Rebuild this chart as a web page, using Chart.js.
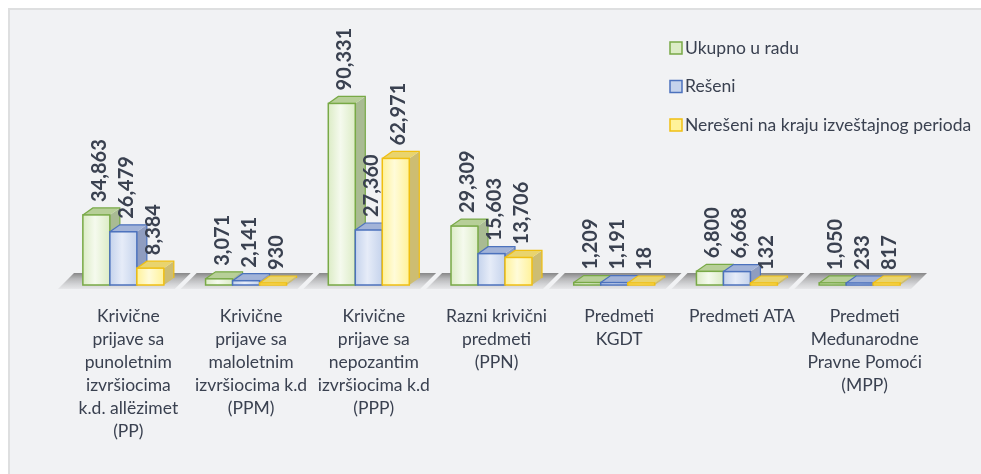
<!DOCTYPE html>
<html>
<head>
<meta charset="utf-8">
<script src="https://cdn.jsdelivr.net/npm/chart.js@4/dist/chart.umd.min.js"></script>
<style>
  html, body { margin: 0; padding: 0; background: #fff; }
  #wrap { position: relative; width: 981px; height: 474px; overflow: hidden; }
  #panel { position: absolute; left: 8px; top: 8px; right: 0; bottom: 0;
    background: #f1f2f4; border-top: 2px solid #dedfe0; border-left: 2px solid #dedfe0; }
  #c { position: absolute; left: 0; top: 0; }
</style>
</head>
<body>
<div id="wrap">
  <div id="panel"></div>
  <canvas id="c" width="981" height="474"></canvas>
</div>
<script>
const categories = [
  ['Krivične', 'prijave sa', 'punoletnim', 'izvršiocima', 'k.d. allëzimet', '(PP)'],
  ['Krivične', 'prijave sa', 'maloletnim', 'izvršiocima k.d', '(PPM)'],
  ['Krivične', 'prijave sa', 'nepozantim', 'izvršiocima k.d', '(PPP)'],
  ['Razni krivični', 'predmeti', '(PPN)'],
  ['Predmeti', 'KGDT'],
  ['Predmeti ATA'],
  ['Predmeti', 'Međunarodne', 'Pravne Pomoći', '(MPP)']
];
const seriesNames = ['Ukupno u radu', 'Rešeni', 'Nerešeni na kraju izveštajnog perioda'];
const ukupno = [34863, 3071, 90331, 29309, 1209, 6800, 1050];
const reseni = [26479, 2141, 27360, 15603, 1191, 6668, 233];
const nereseni = [8384, 930, 62971, 13706, 18, 132, 817];

const FONT = 'Lato, "Noto Sans", sans-serif';
const TEXT = '#3a4150';
const DX = 10, DY = 7;

// face colours per series: front edge, front centre, border, side, top
const looks = [
  { front: '#dcecc6', mid: '#f5faee', border: '#78a946', side: '#a9bb93', top: '#b7cf98' },
  { front: '#c5d3ec', mid: '#e6ecf8', border: '#4c72bd', side: '#8f9dc0', top: '#a2b3d8' },
  { front: '#fff29a', mid: '#fffbd9', border: '#f0bf12', side: '#cdbd72', top: '#e9d46e' }
];

const box3d = {
  id: 'box3d',
  beforeDatasetsDraw(chart) {
    const { ctx, scales: { x, y } } = chart;
    const base = y.getPixelForValue(0);
    const half = (x.getPixelForValue(1) - x.getPixelForValue(0)) / 2;
    ctx.save();
    categories.forEach((_, i) => {
      const cx = x.getPixelForValue(i);
      const l = cx - half + 2, r = cx + half - 4;
      const g = ctx.createLinearGradient(0, base - 12, 0, base + 4);
      g.addColorStop(0, 'rgba(115,115,115,0.85)');
      g.addColorStop(0.35, 'rgba(165,165,167,0.78)');
      g.addColorStop(1, 'rgba(222,223,225,0.6)');
      ctx.fillStyle = g;
      ctx.beginPath();
      ctx.moveTo(l - 6, base + 4);
      ctx.lineTo(r - 6, base + 4);
      ctx.lineTo(r + 10, base - 12);
      ctx.lineTo(l + 10, base - 12);
      ctx.closePath();
      ctx.fill();
    });
    ctx.restore();
  },
  afterDatasetsDraw(chart) {
    const { ctx } = chart;
    ctx.save();
    categories.forEach((_, i) => {
      chart.data.datasets.forEach((ds, d) => {
        const el = chart.getDatasetMeta(d).data[i];
        const lk = looks[d];
        const l = el.x - el.width / 2, r = el.x + el.width / 2;
        const base = el.base;
        const top = Math.min(el.y, base - 2);
        // side
        ctx.fillStyle = lk.side;
        ctx.beginPath();
        ctx.moveTo(r, top); ctx.lineTo(r + DX, top - DY);
        ctx.lineTo(r + DX, base - DY); ctx.lineTo(r, base);
        ctx.closePath(); ctx.fill();
        // top
        ctx.fillStyle = lk.top;
        ctx.beginPath();
        ctx.moveTo(l, top); ctx.lineTo(l + DX, top - DY);
        ctx.lineTo(r + DX, top - DY); ctx.lineTo(r, top);
        ctx.closePath(); ctx.fill();
        ctx.strokeStyle = lk.border;
        ctx.lineWidth = 1.2;
        ctx.beginPath();
        ctx.moveTo(l, top); ctx.lineTo(l + DX, top - DY);
        ctx.lineTo(r + DX, top - DY); ctx.lineTo(r + DX, base - DY);
        ctx.stroke();
        // front
        const g = ctx.createLinearGradient(l, 0, r, 0);
        g.addColorStop(0, lk.front);
        g.addColorStop(0.45, lk.mid);
        g.addColorStop(1, lk.front);
        ctx.fillStyle = g;
        ctx.fillRect(l, top, r - l, base - top);
        ctx.lineWidth = 1.5;
        ctx.strokeRect(l, top, r - l, base - top);
      });
    });
    // value labels
    ctx.font = 'bold 20px ' + FONT;
    ctx.fillStyle = TEXT;
    ctx.textAlign = 'left';
    ctx.textBaseline = 'middle';
    chart.data.datasets.forEach((ds, d) => {
      chart.getDatasetMeta(d).data.forEach((el, i) => {
        const top = Math.min(el.y, el.base - 2);
        ctx.save();
        ctx.translate(el.x + 3, top - DY - 6);
        ctx.rotate(-Math.PI / 2);
        ctx.fillText(ds.data[i].toLocaleString('en-US'), 0, 0);
        ctx.restore();
      });
    });
    ctx.restore();
  },
  afterDraw(chart) {
    const { ctx } = chart;
    ctx.save();
    ctx.font = '17.5px ' + FONT;
    ctx.textBaseline = 'middle';
    ctx.textAlign = 'left';
    chart.data.datasets.forEach((ds, d) => {
      const yy = 48 + d * 38.5;
      ctx.fillStyle = looks[d].front;
      ctx.fillRect(670, yy - 6, 12, 12);
      ctx.strokeStyle = looks[d].border;
      ctx.lineWidth = 1.5;
      ctx.strokeRect(670, yy - 6, 12, 12);
      ctx.fillStyle = TEXT;
      ctx.fillText(ds.label, 685, yy);
    });
    ctx.restore();
  }
};

new Chart(document.getElementById('c'), {
  type: 'bar',
  data: {
    labels: categories,
    datasets: [
      { label: seriesNames[0], data: ukupno },
      { label: seriesNames[1], data: reseni },
      { label: seriesNames[2], data: nereseni }
    ].map(ds => ({ ...ds, backgroundColor: 'rgba(0,0,0,0)', borderWidth: 0,
      barPercentage: 1, categoryPercentage: 0.66 }))
  },
  options: {
    responsive: false, devicePixelRatio: 1, animation: false,
    layout: { padding: { top: 84, left: 62, right: 60, bottom: 0 } },
    plugins: { legend: { display: false }, tooltip: { enabled: false } },
    scales: {
      x: {
        grid: { display: false, drawTicks: false }, border: { display: false },
        ticks: { color: TEXT, font: { family: FONT, size: 17.5, lineHeight: 1.314 },
          padding: 20, labelOffset: 5, maxRotation: 0, autoSkip: false },
        afterFit: s => { s.height = 189; }
      },
      y: { display: false, min: 0, max: 100000 }
    }
  },
  plugins: [box3d]
});
</script>
</body>
</html>
